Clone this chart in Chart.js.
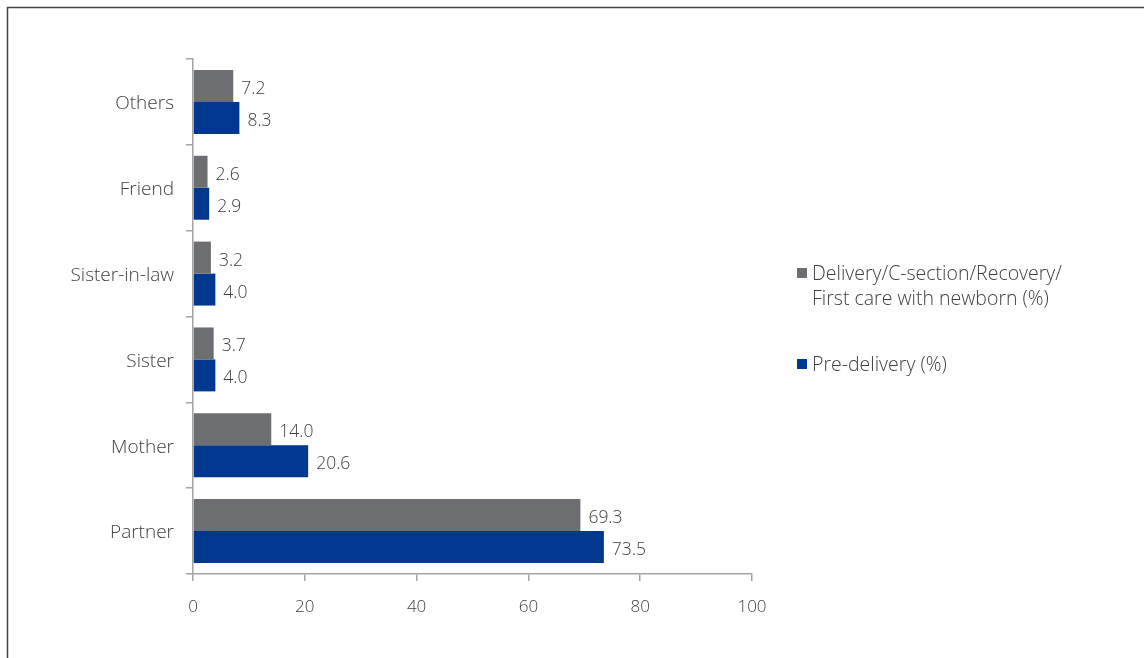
<!DOCTYPE html>
<html>
<head>
<meta charset="utf-8">
<script src="https://cdn.jsdelivr.net/npm/chart.js@4"></script>
<style>
  html, body { margin: 0; padding: 0; background: #fff; }
  #wrap { position: relative; width: 1144px; height: 658px; }
</style>
</head>
<body>
<div id="wrap"><canvas id="supportChart" width="1144" height="658"></canvas></div>
<script>
const categories = ["Others", "Friend", "Sister-in-law", "Sister", "Mother", "Partner"];
const deliveryValues = [7.2, 2.6, 3.2, 3.7, 14.0, 69.3];
const preDeliveryValues = [8.3, 2.9, 4.0, 4.0, 20.6, 73.5];
const seriesLabels = ["Delivery/C-section/Recovery/\nFirst care with newborn (%)", "Pre-delivery (%)"];
const seriesColors = ["#6d6e71", "#00378f"];
const xTicks = [0, 20, 40, 60, 80, 100];

const textColor = "#404040";
const axisColor = "#a3a3a3";
const fontFamily = "'Open Sans', 'DejaVu Sans', sans-serif";

// frame around the figure + value labels + side legend
const extras = {
    id: "extras",
    beforeDraw(chart) {
        const ctx = chart.ctx;
        ctx.save();
        ctx.strokeStyle = "#444";
        ctx.lineWidth = 1.5;
        ctx.beginPath();
        ctx.moveTo(7.5, 658);
        ctx.lineTo(7.5, 7.5);
        ctx.lineTo(1144, 7.5);
        ctx.stroke();
        ctx.restore();
    },
    afterDatasetsDraw(chart) {
        const ctx = chart.ctx;
        ctx.save();
        ctx.font = "300 17.5px " + fontFamily;
        ctx.fillStyle = textColor;
        ctx.textBaseline = "middle";
        ctx.textAlign = "left";
        chart.data.datasets.forEach((ds, i) => {
            chart.getDatasetMeta(i).data.forEach((bar, j) => {
                ctx.fillText(ds.data[j].toFixed(1), bar.x + 8, bar.y + 3);
            });
        });

        // legend
        const lx = 797, items = [{ y: 273 }, { y: 364 }];
        ctx.font = "300 19.5px " + fontFamily;
        chart.data.datasets.forEach((ds, i) => {
            const y = items[i].y;
            ctx.fillStyle = ds.backgroundColor;
            ctx.fillRect(lx, y - 5, 10, 10);
            ctx.fillStyle = textColor;
            ds.label.split("\n").forEach((line, k) => {
                ctx.fillText(line, lx + 15, y + 1 + k * 25);
            });
        });
        ctx.restore();
    }
};

new Chart(document.getElementById("supportChart"), {
    type: "bar",
    data: {
        labels: categories,
        datasets: [
            { label: seriesLabels[0], data: deliveryValues, backgroundColor: seriesColors[0] },
            { label: seriesLabels[1], data: preDeliveryValues, backgroundColor: seriesColors[1] }
        ]
    },
    options: {
        indexAxis: "y",
        responsive: false,
        animation: false,
        categoryPercentage: 0.745,
        barPercentage: 1.0,
        layout: { padding: { left: 0, top: 59, right: 392, bottom: 0 } },
        plugins: {
            legend: { display: false },
            tooltip: { enabled: false }
        },
        scales: {
            x: {
                min: 0,
                max: 100,
                afterBuildTicks: scale => { scale.ticks = xTicks.map(v => ({ value: v })); },
                afterFit: scale => { scale.height = 84; },
                border: { color: axisColor, width: 1.5 },
                grid: { drawOnChartArea: false, drawTicks: true, tickLength: 7, color: axisColor, lineWidth: 1.5 },
                ticks: { color: textColor, font: { family: fontFamily, size: 17, weight: 300 }, padding: 16, maxRotation: 0 }
            },
            y: {
                afterFit: scale => { scale.width = 193; },
                border: { color: axisColor, width: 1.5 },
                grid: { drawOnChartArea: false, drawTicks: true, tickLength: 7, color: axisColor, lineWidth: 1.5, offset: true },
                ticks: { color: textColor, font: { family: fontFamily, size: 19, weight: 300 }, padding: 12, labelOffset: 2 }
            }
        }
    },
    plugins: [extras]
});
</script>
</body>
</html>
